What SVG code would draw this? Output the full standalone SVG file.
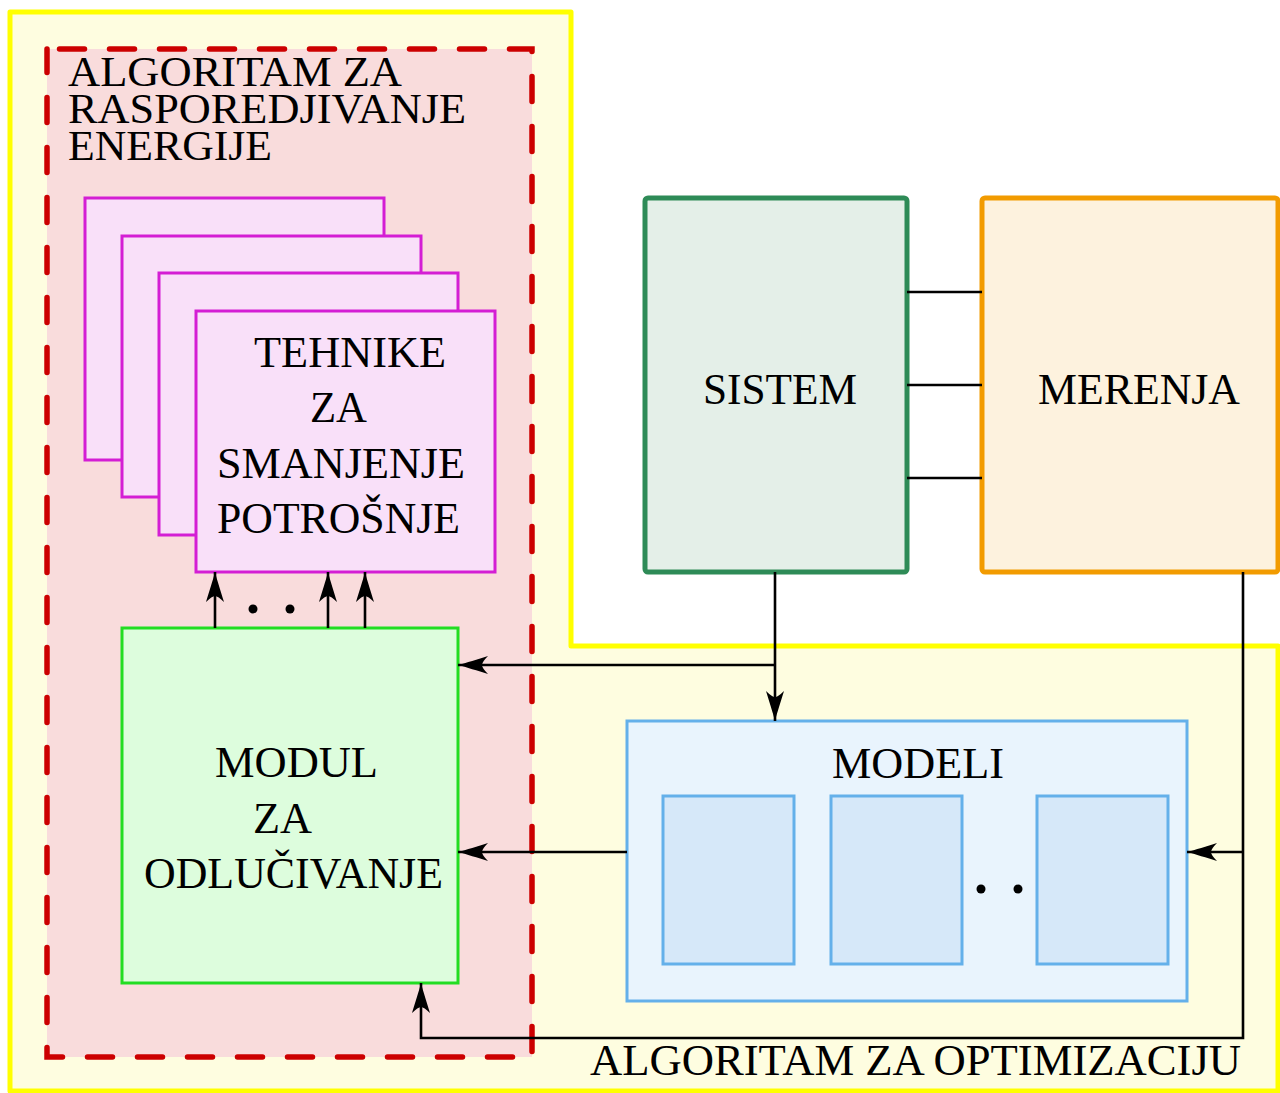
<svg xmlns="http://www.w3.org/2000/svg" width="1280" height="1093" viewBox="0 0 1280 1093">
<defs>
<style>
text{font-family:"Liberation Serif","Times New Roman",serif;font-size:44px;fill:#000}
.tl{font-size:42px}
.conn{fill:none;stroke:#000;stroke-width:2.6}
.tech{fill:#f9e0f9;stroke:#d41ed4;stroke-width:3}
.mbox{fill:#d6e8f9;stroke:#64b0ea;stroke-width:3}
</style>
<marker id="arr" viewBox="-31 -10 32 20" markerWidth="32" markerHeight="20" refX="0" refY="0" orient="auto" markerUnits="userSpaceOnUse">
<path d="M0,0 C-8,-2 -20,-6 -30,-9 Q-24,-3 -24,0 Q-24,3 -30,9 C-20,6 -8,2 0,0 Z" fill="#000"/>
</marker>
</defs>
<rect width="1280" height="1093" fill="#fff"/>
<g id="optimizacija">
<polygon points="10,12 571,12 571,646 1278,646 1278,1091 10,1091" fill="#fefde0" stroke="#ffff00" stroke-width="5" stroke-linejoin="round"/>
<text x="590" y="1075" textLength="651" lengthAdjust="spacingAndGlyphs">ALGORITAM ZA OPTIMIZACIJU</text>
</g>
<g id="rasporedjivanje">
<rect x="47" y="49" width="485" height="1008" fill="#f9dcdc" stroke="#cc0000" stroke-width="5.5" stroke-dasharray="25 25" stroke-dashoffset="37.5" stroke-linecap="round"/>
<text class="tl" x="68" y="86" textLength="334" lengthAdjust="spacingAndGlyphs">ALGORITAM ZA</text>
<text class="tl" x="68" y="123" textLength="398" lengthAdjust="spacingAndGlyphs">RASPOREDJIVANJE</text>
<text class="tl" x="68" y="160" textLength="204" lengthAdjust="spacingAndGlyphs">ENERGIJE</text>
</g>
<g id="tehnike">
<rect class="tech" x="85" y="198" width="299" height="262"/>
<rect class="tech" x="122" y="236" width="299" height="261"/>
<rect class="tech" x="159" y="273" width="299" height="262"/>
<rect class="tech" x="196" y="311" width="299" height="261"/>
<text x="254" y="367" textLength="192" lengthAdjust="spacingAndGlyphs">TEHNIKE</text>
<text x="310" y="422" textLength="57" lengthAdjust="spacingAndGlyphs">ZA</text>
<text x="217" y="478" textLength="248" lengthAdjust="spacingAndGlyphs">SMANJENJE</text>
<text x="217" y="533" textLength="243" lengthAdjust="spacingAndGlyphs">POTROŠNJE</text>
</g>
<g id="modul">
<rect x="122" y="628" width="336" height="355" fill="#ddfddd" stroke="#22dd22" stroke-width="3"/>
<text x="215" y="777" textLength="163" lengthAdjust="spacingAndGlyphs">MODUL</text>
<text x="253" y="833" textLength="59" lengthAdjust="spacingAndGlyphs">ZA</text>
<text x="144" y="888" textLength="299" lengthAdjust="spacingAndGlyphs">ODLUČIVANJE</text>
</g>
<g id="sistem">
<rect x="645" y="198" width="262" height="374" rx="3" fill="#e4efe8" stroke="#2e8b57" stroke-width="5"/>
<text x="703" y="404" textLength="154" lengthAdjust="spacingAndGlyphs">SISTEM</text>
</g>
<g id="merenja">
<rect x="982" y="198" width="296" height="374" rx="3" fill="#fdf2de" stroke="#f29b00" stroke-width="5"/>
<text x="1038" y="404" textLength="202" lengthAdjust="spacingAndGlyphs">MERENJA</text>
</g>
<g id="modeli">
<rect x="627" y="721" width="560" height="280" fill="#e9f4fd" stroke="#64b0ea" stroke-width="3"/>
<text x="832" y="778" textLength="172" lengthAdjust="spacingAndGlyphs">MODELI</text>
<rect class="mbox" x="663" y="796" width="131" height="168"/>
<rect class="mbox" x="831" y="796" width="131" height="168"/>
<rect class="mbox" x="1037" y="796" width="131" height="168"/>
<circle cx="981" cy="889" r="4.5" fill="#000"/>
<circle cx="1018" cy="889" r="4.5" fill="#000"/>
</g>
<g id="connectors">
<path class="conn" d="M907,292 H982 M907,385 H982 M907,478 H982"/>
<path class="conn" d="M775,572 V721" marker-end="url(#arr)"/>
<path class="conn" d="M775,665 H458" marker-end="url(#arr)"/>
<path class="conn" d="M627,852 H458" marker-end="url(#arr)"/>
<path class="conn" d="M1243,572 V1038 H421 V983" marker-end="url(#arr)"/>
<path class="conn" d="M1243,852 H1187" marker-end="url(#arr)"/>
<path class="conn" d="M215,628 V572" marker-end="url(#arr)"/>
<path class="conn" d="M328,628 V572" marker-end="url(#arr)"/>
<path class="conn" d="M365,628 V572" marker-end="url(#arr)"/>
<circle cx="253" cy="609" r="4.5" fill="#000"/>
<circle cx="290" cy="609" r="4.5" fill="#000"/>
</g>
</svg>
